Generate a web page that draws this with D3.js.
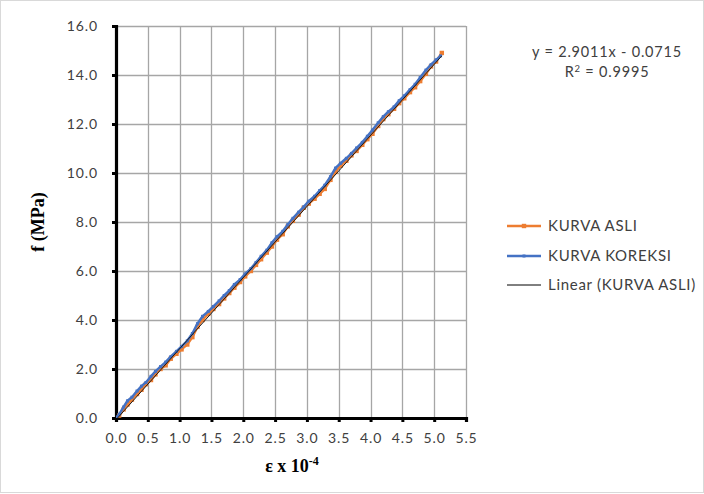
<!DOCTYPE html>
<html>
<head>
<meta charset="utf-8">
<script src="https://cdn.jsdelivr.net/npm/d3@7"></script>
<style>
  html, body { margin: 0; padding: 0; background: #fff; }
  svg { display: block; }
</style>
</head>
<body>
<svg id="chart" width="704" height="494"></svg>
<script>
// Strain (x 10^-4) and stress (MPa) readings
const strainAsli = [0.00,0.05,0.12,0.18,0.25,0.33,0.40,0.47,0.55,0.62,0.70,0.78,0.86,0.95,1.03,1.12,1.20,1.28,1.36,1.45,1.53,1.62,1.70,1.78,1.86,1.95,2.03,2.12,2.20,2.28,2.37,2.45,2.53,2.62,2.70,2.78,2.87,2.95,3.03,3.12,3.20,3.28,3.37,3.45,3.53,3.62,3.70,3.78,3.87,3.95,4.03,4.12,4.20,4.28,4.37,4.45,4.53,4.62,4.70,4.78,4.87,4.95,5.03,5.12];
const stressAsli = [0.00,0.10,0.35,0.55,0.75,0.98,1.15,1.38,1.55,1.78,2.00,2.15,2.42,2.62,2.80,3.00,3.30,3.72,4.00,4.25,4.45,4.65,4.88,5.10,5.32,5.55,5.78,6.00,6.25,6.48,6.75,7.00,7.28,7.50,7.82,8.05,8.30,8.58,8.75,8.95,9.15,9.35,9.72,10.05,10.30,10.50,10.72,10.90,11.15,11.38,11.60,11.92,12.20,12.40,12.62,12.85,13.05,13.30,13.50,13.75,14.05,14.35,14.55,14.90];

const strainKoreksi = [0.00,0.05,0.12,0.18,0.25,0.33,0.40,0.47,0.55,0.62,0.70,0.78,0.86,0.95,1.03,1.12,1.20,1.28,1.36,1.45,1.53,1.62,1.70,1.78,1.86,1.95,2.03,2.12,2.20,2.28,2.37,2.45,2.53,2.62,2.70,2.78,2.87,2.95,3.03,3.12,3.20,3.28,3.37,3.45,3.53,3.62,3.70,3.78,3.87,3.95,4.03,4.12,4.20,4.28,4.37,4.45,4.53,4.62,4.70,4.78,4.87,4.95,5.03,5.10];
const stressKoreksi = [0.00,0.15,0.45,0.70,0.85,1.10,1.30,1.45,1.70,1.90,2.10,2.28,2.50,2.72,2.92,3.15,3.45,3.85,4.15,4.35,4.55,4.78,5.00,5.20,5.45,5.65,5.88,6.10,6.35,6.60,6.85,7.15,7.40,7.62,7.90,8.15,8.40,8.62,8.85,9.05,9.28,9.50,9.85,10.20,10.40,10.60,10.80,11.02,11.25,11.50,11.75,12.05,12.30,12.50,12.70,12.95,13.15,13.40,13.62,13.90,14.20,14.42,14.62,14.78];

// Linear trendline of KURVA ASLI
const trendSlope = 2.9011;
const trendIntercept = -0.0715;

const xTicks = [0,0.5,1,1.5,2,2.5,3,3.5,4,4.5,5,5.5];
const yTicks = [0,2,4,6,8,10,12,14,16];

const seriesNames = ["KURVA ASLI", "KURVA KOREKSI", "Linear (KURVA ASLI)"];
const seriesColors = ["#ED7D31", "#4472C4", "#000000"];

const svg = d3.select("#chart");
const W = 704, H = 494;
const plot = { left: 116, right: 466, top: 26, bottom: 418 };

// Chart border
svg.append("rect")
  .attr("x", 0.5).attr("y", 0.5)
  .attr("width", W - 1).attr("height", H - 2)
  .attr("fill", "#fff").attr("stroke", "#d9d9d9").attr("stroke-width", 1);

const x = d3.scaleLinear().domain([0, 5.5]).range([plot.left, plot.right]);
const y = d3.scaleLinear().domain([0, 16]).range([plot.bottom, plot.top]);

const labelFont = "Lato, 'Open Sans', sans-serif";

// Gridlines
const grid = svg.append("g");
grid.selectAll("line.v").data(xTicks.slice(1)).join("line")
  .attr("x1", d => Math.round(x(d)) + 0.5).attr("x2", d => Math.round(x(d)) + 0.5)
  .attr("y1", plot.top).attr("y2", plot.bottom)
  .attr("stroke", "#a6a6a6").attr("stroke-width", 1.3);
grid.selectAll("line.h").data(yTicks.slice(1)).join("line")
  .attr("y1", d => Math.round(y(d)) + 0.5).attr("y2", d => Math.round(y(d)) + 0.5)
  .attr("x1", plot.left).attr("x2", plot.right)
  .attr("stroke", "#a6a6a6").attr("stroke-width", 1.3);

// Axes
const xAxis = svg.append("g")
  .attr("transform", `translate(0,${plot.bottom})`)
  .call(d3.axisBottom(x).tickValues(xTicks).tickFormat(d3.format(".1f")).tickSize(4).tickPadding(11));
const yAxis = svg.append("g")
  .attr("transform", `translate(${plot.left},0)`)
  .call(d3.axisLeft(y).tickValues(yTicks).tickFormat(d3.format(".1f")).tickSize(4).tickPadding(14));

[xAxis, yAxis].forEach(ax => {
  ax.select(".domain").attr("stroke", "#000").attr("stroke-width", 3.2);
  ax.selectAll(".tick line").attr("stroke", "#000").attr("stroke-width", 3);
  ax.selectAll(".tick text")
    .attr("fill", "#404040")
    .style("font-family", labelFont)
    .style("font-size", "14px")
    .style("letter-spacing", "0.9px");
});

// Clip for the series
svg.append("clipPath").attr("id", "plotClip").append("rect")
  .attr("x", plot.left).attr("y", plot.top - 10)
  .attr("width", plot.right - plot.left).attr("height", plot.bottom - plot.top + 10);

const line = d3.line().x(d => x(d[0])).y(d => y(d[1]));
const asli = strainAsli.map((v, i) => [v, stressAsli[i]]);
const koreksi = strainKoreksi.map((v, i) => [v, stressKoreksi[i]]);

const series = svg.append("g").attr("clip-path", "url(#plotClip)");

series.append("path").datum(asli)
  .attr("d", line).attr("fill", "none")
  .attr("stroke", seriesColors[0]).attr("stroke-width", 2.5);
series.selectAll("rect.m-asli").data(asli).join("rect")
  .attr("x", d => x(d[0]) - 2.2).attr("y", d => y(d[1]) - 2.2)
  .attr("width", 4.4).attr("height", 4.4).attr("fill", seriesColors[0]);

series.append("path").datum(koreksi)
  .attr("d", line).attr("fill", "none")
  .attr("stroke", seriesColors[1]).attr("stroke-width", 2.5);
series.selectAll("rect.m-kor").data(koreksi).join("rect")
  .attr("x", d => x(d[0]) - 1.5).attr("y", d => y(d[1]) - 1.5)
  .attr("width", 3).attr("height", 3).attr("fill", seriesColors[1]);

// Trendline across the data range
const xMin = d3.min(strainAsli), xMax = d3.max(strainAsli);
series.append("path")
  .datum([[xMin, trendSlope * xMin + trendIntercept], [xMax, trendSlope * xMax + trendIntercept]])
  .attr("d", line).attr("fill", "none")
  .attr("stroke", "#1a1a1a").attr("stroke-width", 1);

// Trendline equation
svg.append("text")
  .attr("x", 607).attr("y", 57)
  .attr("text-anchor", "middle")
  .attr("fill", "#404040")
  .style("font-family", labelFont).style("font-size", "14.5px").style("letter-spacing", "0.8px")
  .text(`y = ${trendSlope.toFixed(4)}x - ${Math.abs(trendIntercept).toFixed(4)}`);
const r2 = svg.append("text")
  .attr("x", 607).attr("y", 77)
  .attr("text-anchor", "middle")
  .attr("fill", "#404040")
  .style("font-family", labelFont).style("font-size", "14.5px").style("letter-spacing", "0.8px");
r2.append("tspan").text("R");
r2.append("tspan").attr("dy", -5).style("font-size", "9.5px").text("2");
r2.append("tspan").attr("dy", 5).text(" = 0.9995");

// Legend
const legendY = [226, 256, 285];
const legend = svg.append("g");
seriesNames.forEach((name, i) => {
  const g = legend.append("g").attr("transform", `translate(0,${legendY[i]})`);
  g.append("line").attr("x1", 507).attr("x2", 541).attr("y1", 0).attr("y2", 0)
    .attr("stroke", seriesColors[i]).attr("stroke-width", i < 2 ? 2.5 : 1);
  if (i === 0) {
    g.append("rect").attr("x", 521.8).attr("y", -2.2).attr("width", 4.4).attr("height", 4.4).attr("fill", seriesColors[0]);
  } else if (i === 1) {
    g.append("rect").attr("x", 522.5).attr("y", -1.5).attr("width", 3).attr("height", 3).attr("fill", seriesColors[1]);
  }
  g.append("text").attr("x", 548).attr("y", 5)
    .attr("fill", "#404040")
    .style("font-family", labelFont).style("font-size", "15px").style("letter-spacing", "0.7px")
    .text(name);
});

// Axis titles
svg.append("text")
  .attr("transform", `translate(44,${(plot.top + plot.bottom) / 2}) rotate(-90)`)
  .attr("text-anchor", "middle")
  .style("font-family", "'Liberation Serif', 'Times New Roman', serif")
  .style("font-size", "18px").style("font-weight", "bold")
  .attr("fill", "#000")
  .text("f (MPa)");

const xt = svg.append("text")
  .attr("x", 292).attr("y", 472)
  .attr("text-anchor", "middle")
  .style("font-family", "'Liberation Serif', 'Times New Roman', serif")
  .style("font-size", "18px").style("font-weight", "bold")
  .attr("fill", "#000");
xt.append("tspan").text("ε x 10");
xt.append("tspan").attr("dy", -7).style("font-size", "12px").text("-4");
</script>
</body>
</html>
